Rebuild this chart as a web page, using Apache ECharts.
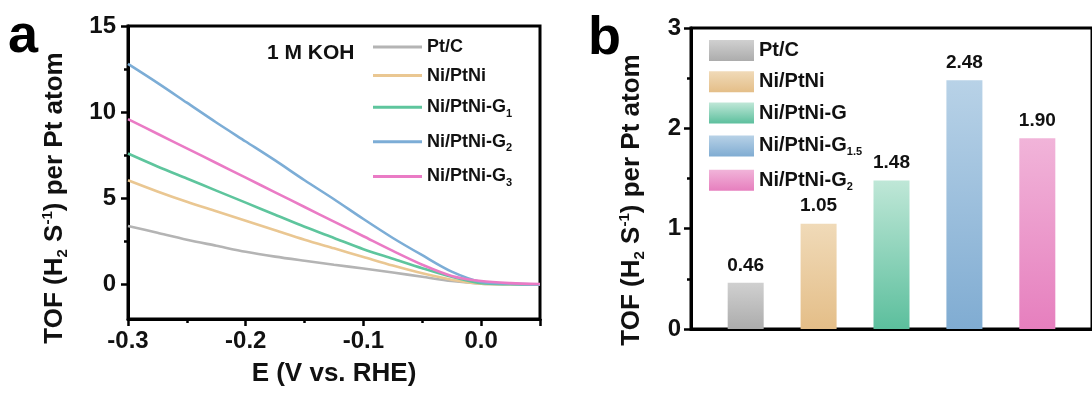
<!DOCTYPE html>
<html>
<head>
<meta charset="utf-8">
<script src="https://cdn.jsdelivr.net/npm/echarts@6.0.0/dist/echarts.min.js"></script>
<style>
  html, body { margin: 0; padding: 0; background: #fff; }
  #chart { width: 1092px; height: 394px; }
</style>
</head>
<body>
<div id="chart"></div>
<script>
// panel a: TOF vs potential
const potentials = [-0.3, -0.275, -0.25, -0.225, -0.2, -0.175, -0.15, -0.125, -0.1, -0.075, -0.05, -0.025, 0, 0.025, 0.05];
const tofPtC    = [3.4, 3.0, 2.6, 2.25, 1.9, 1.62, 1.38, 1.15, 0.93, 0.7, 0.45, 0.2, 0.05, 0.02, 0];
const tofNiPtNi = [6.05, 5.4, 4.8, 4.25, 3.7, 3.15, 2.6, 2.1, 1.6, 1.1, 0.65, 0.28, 0.05, 0.02, 0];
const tofG1     = [7.6, 6.85, 6.15, 5.45, 4.75, 4.05, 3.35, 2.7, 2.05, 1.5, 0.95, 0.45, 0.08, 0.02, 0];
const tofG2     = [12.8, 11.7, 10.55, 9.4, 8.3, 7.2, 6.05, 4.95, 3.8, 2.7, 1.7, 0.75, 0.15, 0.05, 0];
const tofG3     = [9.6, 8.75, 7.9, 7.05, 6.2, 5.35, 4.5, 3.65, 2.8, 1.95, 1.15, 0.5, 0.2, 0.08, 0.03];
const lineNames = [['Pt/C', ''], ['Ni/PtNi', ''], ['Ni/PtNi-G', '1'], ['Ni/PtNi-G', '2'], ['Ni/PtNi-G', '3']];
const lineColors = ['#b4b4b4', '#eac792', '#5ec59d', '#7cadd6', '#ea7bc5'];
const lineValues = [tofPtC, tofNiPtNi, tofG1, tofG2, tofG3];
const yTicksA = [0, 5, 10, 15];
const yMinorA = [2.5, 7.5, 12.5];

// panel b: TOF at fixed potential
const barNames = [['Pt/C', ''], ['Ni/PtNi', ''], ['Ni/PtNi-G', ''], ['Ni/PtNi-G', '1.5'], ['Ni/PtNi-G', '2']];
const barValues = [0.46, 1.05, 1.48, 2.48, 1.90];
const barSlots = [1, 2, 3, 4, 5];
const barTop = ['#d0d0d0', '#f0dab8', '#bfe7d7', '#b8d2e7', '#f1b4d9'];
const barBottom = ['#acacac', '#e4be88', '#5cbf9d', '#80acd2', '#e67fbe'];

const FONT = '"Liberation Sans", Arial, sans-serif';
const fullName = n => n[0] + n[1];
const richName = n => n[1] ? '{m|' + n[0] + '}{s|' + n[1] + '}' : '{m|' + n[0] + '}';

function legendRich(size) {
  return {
    m: { fontSize: size, fontWeight: 'bold', fontFamily: FONT, color: '#111', lineHeight: 24 },
    s: { fontSize: 11, fontWeight: 'bold', fontFamily: FONT, color: '#111', lineHeight: 11, padding: [13, 0, 0, 0] }
  };
}

const titleRich = {
  m: { fontSize: 26, fontWeight: 'bold', fontFamily: FONT, fill: '#111', lineHeight: 30 },
  s: { fontSize: 15, fontWeight: 'bold', fontFamily: FONT, fill: '#111', lineHeight: 15, padding: [15, 0, 0, 0] },
  p: { fontSize: 15, fontWeight: 'bold', fontFamily: FONT, fill: '#111', lineHeight: 15, padding: [0, 0, 15, 0] }
};
const tofTitle = '{m|TOF (H}{s|2}{m| S}{p|-1}{m|) per Pt atom}';

const tickLabel = { fontSize: 24, fontWeight: 'bold', fontFamily: FONT, color: '#111' };

const chart = echarts.init(document.getElementById('chart'));

const series = [];
lineValues.forEach((vals, i) => {
  series.push({
    type: 'line',
    name: fullName(lineNames[i]),
    xAxisIndex: 0,
    yAxisIndex: 0,
    data: potentials.map((e, k) => [e, vals[k]]),
    smooth: 0.3,
    showSymbol: false,
    lineStyle: { width: 2.6, color: lineColors[i] },
    itemStyle: { color: lineColors[i] },
    z: 3 + (i === 4 ? 1 : 0)
  });
});
barValues.forEach((v, i) => {
  const grad = new echarts.graphic.LinearGradient(0, 0, 0, 1, [
    { offset: 0, color: barTop[i] },
    { offset: 1, color: barBottom[i] }
  ]);
  series.push({
    type: 'bar',
    name: fullName(barNames[i]) + ' ',
    xAxisIndex: 1,
    yAxisIndex: 2,
    data: [[barSlots[i], v]],
    barWidth: 36,
    barGap: '-100%',
    itemStyle: { color: grad },
    label: {
      show: true,
      position: 'top',
      distance: 8,
      formatter: p => p.value[1].toFixed(2),
      fontSize: 19,
      fontWeight: 'bold',
      fontFamily: FONT,
      color: '#111'
    }
  });
});

function yTitle(cx, cy) {
  return {
    type: 'text', x: cx, y: cy, rotation: Math.PI / 2,
    style: { text: tofTitle, rich: titleRich, align: 'center', verticalAlign: 'middle' }
  };
}

chart.setOption({
  animation: false,
  backgroundColor: '#fff',
  grid: [
    { left: 128, top: 26, width: 412, height: 302, show: true, borderColor: '#000', borderWidth: 3, backgroundColor: 'transparent' },
    { left: 691, top: 28, width: 412, height: 301, show: true, borderColor: '#000', borderWidth: 3, backgroundColor: 'transparent' }
  ],
  xAxis: [
    {
      type: 'value', gridIndex: 0, min: -0.3, max: 0.05, interval: 0.1,
      name: 'E (V vs. RHE)', nameLocation: 'middle', nameGap: 40,
      nameTextStyle: { fontSize: 26, fontWeight: 'bold', fontFamily: FONT, color: '#111', lineHeight: 30 },
      axisLine: { onZero: false, lineStyle: { color: '#000', width: 3 } },
      axisTick: { show: true, length: 7, lineStyle: { color: '#000', width: 2.5 } },
      minorTick: { show: true, splitNumber: 2, length: 4, lineStyle: { color: '#000', width: 2.5 } },
      axisLabel: Object.assign({ margin: 10, showMaxLabel: false, formatter: v => v.toFixed(1) }, tickLabel),
      splitLine: { show: false }
    },
    {
      type: 'value', gridIndex: 1, min: 0.25, max: 5.75,
      axisLine: { onZero: false, lineStyle: { color: '#000', width: 3 } },
      axisTick: { show: false },
      axisLabel: { show: false },
      splitLine: { show: false }
    }
  ],
  yAxis: [
    {
      type: 'value', gridIndex: 0, min: -2, max: 15,
      axisLine: { show: true, onZero: false, lineStyle: { color: '#000', width: 3 } },
      axisTick: { show: true, length: 7, customValues: yTicksA, lineStyle: { color: '#000', width: 2.5 } },
      axisLabel: Object.assign({ margin: 12, customValues: yTicksA }, tickLabel),
      splitLine: { show: false }
    },
    {
      type: 'value', gridIndex: 0, min: -2, max: 15, position: 'left',
      axisLine: { show: false, onZero: false },
      axisTick: { show: true, length: 4, customValues: yMinorA, lineStyle: { color: '#000', width: 2.5 } },
      axisLabel: { show: false },
      splitLine: { show: false }
    },
    {
      type: 'value', gridIndex: 1, min: 0, max: 3, interval: 1,
      axisLine: { show: true, onZero: false, lineStyle: { color: '#000', width: 3 } },
      axisTick: { show: true, length: 7, lineStyle: { color: '#000', width: 2.5 } },
      minorTick: { show: true, splitNumber: 2, length: 4, lineStyle: { color: '#000', width: 2.5 } },
      axisLabel: Object.assign({ margin: 10 }, tickLabel),
      splitLine: { show: false }
    }
  ],
  legend: [
    {
      orient: 'vertical', left: 373, top: 38, padding: 0,
      itemWidth: 49, itemHeight: 3, itemGap: 10.6, icon: 'rect',
      data: lineNames.map(fullName),
      formatter: name => richName(lineNames.find(n => fullName(n) === name)),
      textStyle: { rich: legendRich(18) }
    },
    {
      orient: 'vertical', left: 709, top: 40, padding: 0,
      itemWidth: 45, itemHeight: 21, itemGap: 10.3, icon: 'rect',
      data: barNames.map(n => fullName(n) + ' '),
      formatter: name => richName(barNames.find(n => fullName(n) + ' ' === name)),
      textStyle: { rich: legendRich(20) }
    }
  ],
  graphic: [
    { type: 'text', left: 8, top: 10, style: { text: 'a', font: 'bold 54px ' + FONT, fill: '#000' } },
    { type: 'text', left: 588, top: 12, style: { text: 'b', font: 'bold 54px ' + FONT, fill: '#000' } },
    { type: 'text', left: 267, top: 43, style: { text: '1 M KOH', font: 'bold 21px ' + FONT, fill: '#111' } },
    yTitle(55, 198),
    yTitle(632, 200)
  ],
  series: series
});
</script>
</body>
</html>
